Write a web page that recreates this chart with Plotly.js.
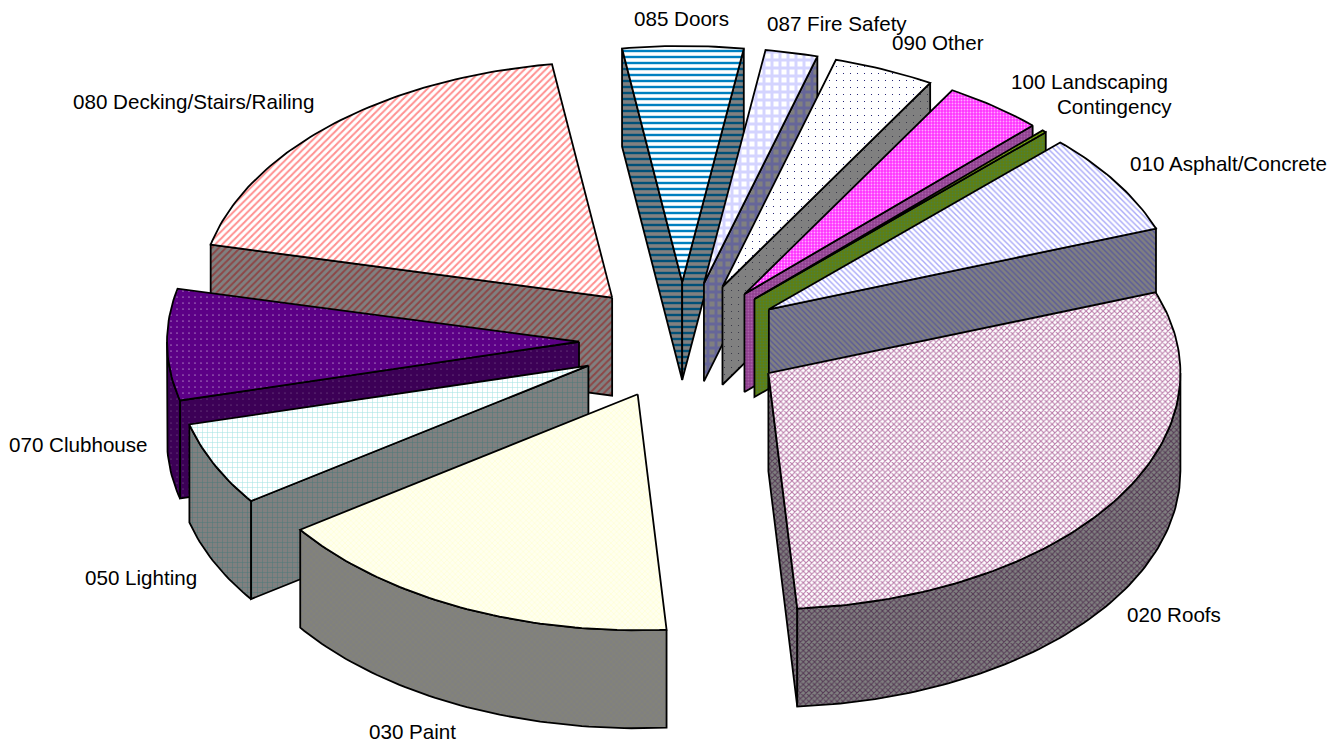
<!DOCTYPE html>
<html><head><meta charset="utf-8">
<script src="https://cdn.plot.ly/plotly-3.0.1.min.js"></script>
<style>html,body{margin:0;padding:0;background:#fff}#c{width:1343px;height:745px}</style>
</head><body><div id="c"></div>
<script>
// Data: slice names and shares (%) in drawing order round the pie
var categories = ["010 Asphalt/Concrete","020 Roofs","030 Paint","050 Lighting","070 Clubhouse","080 Decking/Stairs/Railing","085 Doors","087 Fire Safety","090 Other","100 Landscaping","Contingency"];
var shares = [6.94,29.44,16.39,5.72,7.61,19.06,4.72,2.05,3.97,3.92,0.17];

// Presentation
var styles = [
 {shape:"\\",size:4,sol:.35,bg:"#ffffff",fg:"#a8a8f8",wbg:"#808080",wfg:"#5a5a9a"},
 {shape:"x",size:4,sol:.45,bg:"#ffffff",fg:"#b878a8",wbg:"#808080",wfg:"#553a55"},
 {shape:"x",size:4,sol:.25,bg:"#ffffef",fg:"#ffffc8",wbg:"#808080",wfg:"#86866e"},
 {shape:"+",size:5,sol:.2,bg:"#ffffff",fg:"#a4e2e2",wbg:"#808080",wfg:"#4f7a7a"},
 {shape:".",size:6,sol:.03,bg:"#5c0086",fg:"#ffffff",wbg:"#3c0056",wfg:"#8a6a9a"},
 {shape:"/",size:5,sol:.4,bg:"#ffffff",fg:"#ff9090",wbg:"#808080",wfg:"#8c4646"},
 {shape:"-",size:6,sol:.4,bg:"#ffffff",fg:"#0080c0",wbg:"#808080",wfg:"#005078"},
 {shape:"+",size:8,sol:.6,bg:"#ffffff",fg:"#d4d4ff",wbg:"#808080",wfg:"#666699"},
 {shape:".",size:7,sol:.02,bg:"#ffffff",fg:"#000060",wbg:"#808080",wfg:"#303040"},
 {shape:".",size:3,sol:.3,bg:"#ff33ff",fg:"#ffaaff",wbg:"#904090",wfg:"#a860a8"},
 {shape:".",size:3,sol:.3,bg:"#669900",fg:"#99bb33",wbg:"#5f7f10",wfg:"#4a8040"}
];
var labelPos = [[1228,163],[1174,614],[412,731],[141,577],[78,444],[194,101],[681,19],[837,24],[938,43],[1089,81],[1114,107]];
var W=1343,H=745, CX=682,CY=341, RX=412,RY=236, EXPLODE=.25, THICK=98/236, START=45;
var paintOrder=[6,7,8,9,10,0,5,4,3,2,1];

var total=shares.reduce(function(a,b){return a+b},0), rad=Math.PI/180, bounds=[START];
shares.forEach(function(v,i){bounds.push(bounds[i]+v/total*360)});

function rim(t){return [Math.sin(t*rad),Math.cos(t*rad)]}
function poly(xs,ys,bg,fg,shape,size,sol){
  xs.push(xs[0]);ys.push(ys[0]);
  return {type:"scatter",mode:"lines",x:xs,y:ys,fill:"toself",fillcolor:bg,hoverinfo:"skip",showlegend:false,
    line:{color:"#000",width:1.8,shape:"linear"},
    fillpattern:{shape:shape,size:size,solidity:sol,fgcolor:fg,bgcolor:bg,fillmode:"replace"}};
}
var traces=[];
paintOrder.forEach(function(i){
  var a0=bounds[i],a1=bounds[i+1],m=(a0+a1)/2,s=styles[i];
  var o=rim(m),ox=o[0]*EXPLODE,oy=o[1]*EXPLODE;
  function at(t){var p=rim(t);return [ox+p[0],oy+p[1]];}
  var arc=[],n=Math.max(2,Math.ceil(a1-a0));
  for(var k=0;k<=n;k++)arc.push(at(a0+(a1-a0)*k/n));
  function wall(A,B){
    var xs=[],ys=[];
    A.concat(B.slice().reverse()).forEach(function(q){xs.push(q[0]);ys.push(q[1])});
    traces.push(poly(xs,ys,s.wbg,s.wfg,s.shape,s.size,s.sol));
  }
  var low=function(q){return [q[0],q[1]-THICK]};
  var apex=[ox,oy];
  // only faces turned towards the viewer: cut faces first, then the front of the rim, then the top
  if(Math.sin(a0*rad)<0) wall([apex,arc[0]],[low(apex),low(arc[0])]);
  if(Math.sin(a1*rad)>0) wall([apex,arc[n]],[low(apex),low(arc[n])]);
  var front=[];
  var lo=Math.max(a0,90),hi=Math.min(a1,270);
  if(hi>lo){var f=Math.max(2,Math.ceil(hi-lo));for(k=0;k<=f;k++)front.push(at(lo+(hi-lo)*k/f));wall(front,front.map(low));}
  var xs=[apex[0]],ys=[apex[1]];
  arc.forEach(function(q){xs.push(q[0]);ys.push(q[1])});
  traces.push(poly(xs,ys,s.bg,s.fg,s.shape,s.size,s.sol));
});
var annotations=categories.map(function(c,i){
  return {text:c,xref:"paper",yref:"paper",x:labelPos[i][0]/W,y:1-labelPos[i][1]/H,xanchor:"center",yanchor:"middle",showarrow:false,
    font:{family:"Liberation Sans, Arial, sans-serif",size:20.6,color:"#000"}};
});
var layout={width:W,height:H,margin:{l:0,r:0,t:0,b:0},paper_bgcolor:"#fff",plot_bgcolor:"#fff",showlegend:false,annotations:annotations,
  xaxis:{visible:false,range:[-CX/RX,(W-CX)/RX],fixedrange:true},
  yaxis:{visible:false,range:[-(H-CY)/RY,CY/RY],fixedrange:true}};
Plotly.newPlot("c",traces,layout,{staticPlot:true,displayModeBar:false});
</script></body></html>
